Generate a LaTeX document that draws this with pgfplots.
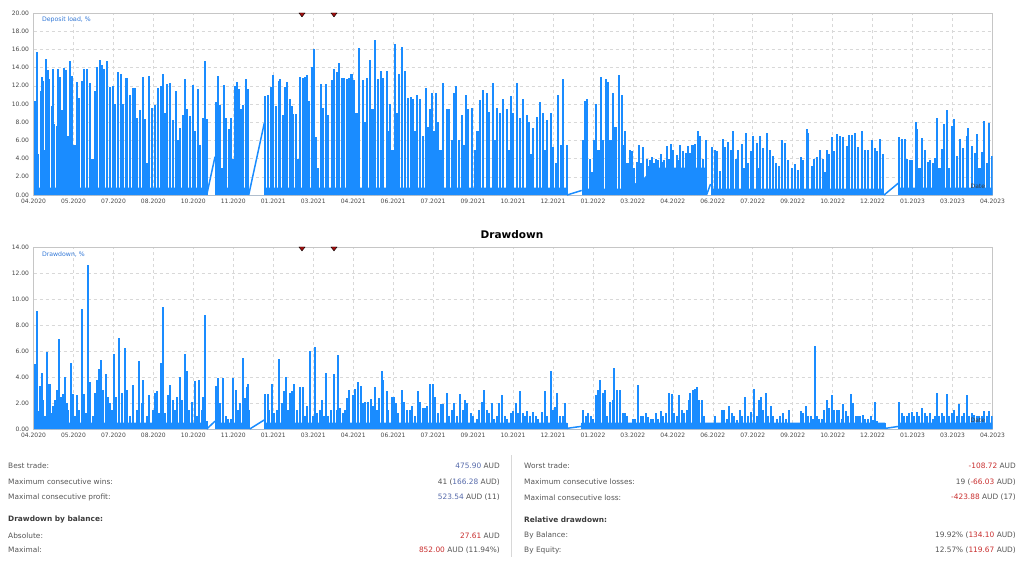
\documentclass[border=0pt]{standalone}
\usepackage{pgfplots}
\pgfplotsset{compat=1.18}
\usepackage{fontspec}
\setmainfont{DejaVu Sans}
\definecolor{dlblue}{RGB}{26,140,255}
\definecolor{lblblue}{RGB}{50,120,215}
\definecolor{tickgray}{RGB}{70,70,70}
\definecolor{gridgray}{RGB}{216,216,216}
\definecolor{framegray}{RGB}{198,198,198}
\definecolor{valblue}{RGB}{85,105,170}
\definecolor{valred}{RGB}{200,45,45}
\definecolor{txtgray}{RGB}{85,85,85}
\definecolor{headgray}{RGB}{60,60,60}
\definecolor{mkred}{RGB}{165,15,15}
\pgfplotsset{
 mt/.style={
  scale only axis, width=959pt, height=182pt,
  xmin=33.5, xmax=992.5, ymin=0,
  xtick={33.5,73.46,113.42,153.37,193.33,233.29,273.25,313.21,353.17,393.12,433.08,473.04,513.0,552.96,592.92,632.87,672.83,712.79,752.75,792.71,832.67,872.62,912.58,952.54,992.5},
  xticklabels={04.2020,05.2020,07.2020,08.2020,10.2020,11.2020,01.2021,03.2021,04.2021,06.2021,07.2021,09.2021,10.2021,12.2021,01.2022,03.2022,04.2022,06.2022,07.2022,09.2022,10.2022,12.2022,01.2023,03.2023,04.2023},
  grid=major,
  major grid style={draw=gridgray, dash pattern=on 3pt off 3pt, line width=0.6pt},
  axis line style={draw=framegray, line width=0.8pt},
  tick style={draw=none},
  tick label style={font=\fontsize{6}{7}\selectfont, text=tickgray},
  xticklabel style={yshift=-1pt},
  yticklabel style={/pgf/number format/.cd, fixed, fixed zerofill, precision=2, assume math mode=true, /tikz/.cd, xshift=-1pt},
 },
 spk/.style={ycomb, mark=none, draw=dlblue, line width=2.1pt},
 gapl/.style={mark=none, draw=dlblue, line width=1.5pt},
 basef/.style={mark=none, fill=dlblue, draw=none},
 mk/.style={only marks, mark=triangle*, mark size=3.5pt, mark options={rotate=180, yscale=0.75, fill=mkred, draw=none}},
}
\begin{document}
\begin{tikzpicture}
\path[use as bounding box] (0pt,0pt) rectangle (1024pt,-566pt);
% ---------------- Deposit load ----------------
\begin{axis}[mt, at={(33.5pt,-195pt)}, anchor=south west, ymax=20, ytick={0,2,...,20}]
\addplot[basef] coordinates {(34,0)(34,0.8)(206.7,0.8)(206.7,0)(216,0)(216,0.8)(248.3,0.8)(248.3,0)(265,0)(265,0.8)(566.7,0.8)(566.7,0)(582.7,0)(582.7,0.7)(622,0.7)(640,1.5)(655,3.0)(705,3.0)(706.5,0)(711,0)(711,0.7)(883.3,0.7)(883.3,0)(899,0)(899,0.8)(992,0.8)(992,0)} \closedcycle;
\addplot[spk] coordinates {
(35.0,10.3)(36.7,15.7)(38.3,4.5)(40.7,11.4)(41.7,13.0)(42.7,12.5)(44.3,5.0)(46.0,15.0)(47.7,13.7)(49.3,12.8)(51.7,9.8)(52.7,13.8)(54.3,7.8)(56.7,7.6)(58.3,13.8)(60.0,13.0)(61.7,9.3)(64.0,14.0)(66.0,13.7)(68.3,6.5)(70.0,14.7)(71.7,13.1)(74.5,5.5)(77.3,12.4)(79.3,10.7)(81.7,12.5)(84.0,13.9)(87.3,13.9)(90.0,12.3)(92.5,4.0)(95.0,11.4)(96.7,14.1)(100.0,14.8)(101.7,14.3)(104.0,13.8)(106.7,14.7)(110.0,11.9)(112.7,12.0)(115.0,10.0)(118.3,13.5)(120.7,13.3)(123.3,10.0)(126.0,12.9)(127.3,12.9)(130.0,11.0)(132.7,11.8)(135.0,11.8)(137.3,8.5)(140.0,9.3)(142.7,13.0)(145.0,8.4)(147.3,3.5)(149.3,13.1)(151.7,9.6)(155.0,9.9)(158.3,11.8)(160.7,12.0)(162.7,13.3)(165.0,9.0)(167.3,12.2)(170.0,12.3)(172.7,8.2)(176.0,11.4)(178.3,6.0)(180.0,7.4)(182.7,8.8)(185.0,12.7)(187.3,9.4)(190.0,8.7)(192.7,12.1)(195.0,7.0)(197.7,11.7)(200.0,5.5)(202.7,8.5)(205.0,14.7)(206.7,8.3)
(216.0,10.2)(217.7,13.1)(220.0,9.9)(221.7,3.0)(224.0,12.1)(226.0,8.5)(229.3,7.3)(231.0,8.5)(233.3,4.0)(235.0,12.0)(236.7,12.4)(239.0,11.7)(240.7,9.4)(243.3,9.9)(246.0,12.7)(248.3,11.7)
(265.0,10.9)(267.7,11.0)(270.7,11.9)(273.3,13.2)(276.0,9.8)(278.7,12.5)(280.0,12.8)(282.7,8.8)(285.0,11.9)(287.3,12.4)(290.0,10.6)(291.7,9.8)(293.3,8.9)(296.0,8.9)(298.0,4.0)(300.0,13.0)(302.7,12.9)(305.0,13.0)(307.3,13.2)(309.3,10.3)(311.7,14.1)(314.0,16.0)(316.0,6.4)(318.3,3.0)(320.7,12.2)(323.3,9.6)(326.0,12.2)(328.3,8.8)(331.7,12.6)(334.3,13.8)(337.3,13.5)(339.3,14.5)(341.7,12.9)(344.0,12.9)(346.7,12.8)(349.0,12.9)(351.5,13.3)(354.0,12.6)(356.5,9.0)(359.0,16.2)(362.7,12.6)(364.7,8.0)(366.7,12.9)(370.0,14.8)(372.5,9.5)(375.0,17.0)(378.3,12.7)(380.7,13.6)(382.7,12.9)(386.7,13.6)(388.3,7.0)(390.0,10.0)(392.5,5.0)(395.0,16.6)(397.0,9.0)(399.3,13.3)(401.7,16.3)(405.0,13.6)(408.3,10.7)(410.7,10.8)(413.3,10.5)(415.3,7.0)(417.3,11.0)(420.0,10.5)(423.0,6.5)(426.0,11.8)(428.0,7.5)(430.0,9.4)(431.7,11.2)(434.0,7.0)(436.0,11.2)(438.3,8.0)(440.5,5.0)(442.7,12.3)(446.7,9.5)(449.3,9.5)(451.7,6.0)(454.0,11.2)(456.0,12.0)(459.0,6.0)(461.7,8.8)(464.0,5.5)(466.0,11.0)(468.3,9.5)(472.3,9.6)(475.0,5.0)(477.5,7.0)(480.0,10.4)(483.3,11.5)(486.7,11.2)(489.3,9.1)(492.7,12.3)(494.7,6.0)(496.7,9.6)(500.0,9.0)(503.3,10.6)(506.7,9.4)(508.7,5.0)(510.7,10.9)(513.3,9.0)(516.7,12.3)(520.0,8.5)(523.3,10.6)(526.7,8.8)(529.3,8.0)(531.3,4.5)(533.3,7.4)(536.7,8.6)(540.0,10.2)(543.3,9.0)(545.3,5.0)(547.3,8.2)(550.7,9.0)(553.3,5.3)(556.0,3.5)(558.3,11.0)(561.0,5.5)(563.3,12.7)(566.7,5.5)
(582.7,6.0)(585.0,10.3)(587.3,10.5)(590.0,4.0)(592.5,2.5)(594.0,6.0)(596.0,10.0)(598.5,5.0)(600.7,13.0)(603.0,6.0)(605.7,12.7)(608.3,12.4)(610.5,6.0)(612.7,11.2)(615.5,7.5)(618.7,13.2)(621.7,11.0)(623.5,5.5)(625.0,7.0)(627.5,3.5)(630.0,5.0)(631.7,4.8)(634.0,3.0)(636.7,3.6)(639.3,5.5)(641.5,3.5)(643.3,5.3)(646.7,4.0)(648.5,3.2)(650.0,3.9)(652.0,4.2)(654.0,3.5)(656.0,4.0)(658.3,3.8)(660.7,4.5)(662.5,3.6)(664.0,3.8)(666.7,5.4)(668.7,4.0)(670.7,5.6)(673.3,5.0)(676.7,4.4)(678.5,3.8)(680.0,5.5)(683.3,4.8)(686.0,4.6)(688.3,5.4)(690.5,4.6)(692.5,5.5)(695.0,5.6)(698.3,7.0)(700.0,6.5)(703.3,4.0)(706.0,6.0)
(711.7,5.3)(715.0,4.9)(717.3,4.8)(720.0,2.6)(722.7,6.1)(725.0,5.3)(728.3,5.8)(730.7,5.0)(733.3,7.0)(736.0,4.0)(738.3,5.0)(741.7,5.6)(744.0,3.0)(746.0,6.8)(748.3,3.5)(750.7,4.8)(753.3,6.5)(756.7,5.7)(758.5,3.0)(760.0,6.5)(763.3,5.2)(766.7,6.8)(770.0,5.0)(772.7,4.3)(776.0,3.5)(778.7,3.2)(781.7,6.0)(785.0,5.7)(788.3,3.9)(791.7,3.0)(795.0,3.4)(797.7,2.8)(800.7,4.2)(803.3,3.9)(806.7,7.2)(808.3,6.8)(811.7,3.2)(814.0,4.0)(816.7,4.2)(820.0,5.0)(822.7,4.0)(824.7,2.5)(826.7,5.0)(829.3,4.5)(831.7,6.4)(834.0,4.8)(836.7,6.7)(840.0,6.5)(843.3,6.4)(846.7,5.4)(849.3,6.6)(851.7,6.6)(855.0,6.8)(858.3,5.3)(861.7,7.0)(865.0,4.9)(868.3,5.0)(871.7,6.0)(875.0,5.2)(877.3,4.8)(880.0,6.1)(883.3,4.5)
(899.0,6.4)(901.7,6.2)(905.0,6.2)(906.7,4.0)(910.0,3.8)(912.3,3.9)(916.0,8.0)(917.3,7.3)(919.5,3.0)(921.7,6.3)(925.0,5.0)(928.3,3.6)(930.0,3.8)(932.7,3.5)(935.0,4.1)(937.3,8.5)(939.5,3.0)(941.7,5.1)(944.0,7.8)(947.3,9.3)(949.3,3.0)(951.7,7.6)(954.0,8.4)(957.3,4.3)(960.0,6.1)(963.3,5.2)(966.7,6.5)(968.3,7.4)(971.7,5.4)(975.0,4.6)(977.3,6.7)(979.5,3.0)(981.7,4.7)(984.0,8.1)(986.7,3.5)(989.3,7.9)(991.7,4.3)};
\addplot[gapl] coordinates {(206.7,0)(215.0,4.2)};
\addplot[gapl] coordinates {(248.7,0)(264.3,7.9)};
\addplot[gapl] coordinates {(567.0,0)(581.7,0.5)};
\addplot[gapl] coordinates {(706.5,0)(710.5,1.2)};
\addplot[gapl] coordinates {(884.0,0)(898.3,1.3)};
\addplot[mk] coordinates {(302,19.86)(334,19.86)};
\node[anchor=west, font=\fontsize{6.2}{7}\selectfont, text=lblblue] at (rel axis cs:0,1) [xshift=5pt, yshift=-7pt] {Deposit load, \%};
\node[anchor=south east, font=\fontsize{6}{7}\selectfont, text=headgray] at (rel axis cs:1,0) [xshift=-4pt, yshift=2.5pt] {Date};
\end{axis}
% ---------------- Drawdown ----------------
\node[font=\bfseries\fontsize{10.5}{12}\selectfont, text=black] at (512pt,-235pt) {Drawdown};
\begin{axis}[mt, at={(33.5pt,-429pt)}, anchor=south west, ymax=14, ytick={0,2,...,14}]
\addplot[basef] coordinates {(34,0)(34,0.5)(206.7,0.5)(206.7,0)(216,0)(216,0.5)(249.3,0.5)(249.3,0)(265,0)(265,0.5)(566.7,0.5)(566.7,0)(581.7,0)(581.7,0.5)(885,0.5)(885,0)(899,0)(899,0.5)(992,0.5)(992,0)} \closedcycle;
\addplot[spk, line width=1.9pt] coordinates {
(35.0,5.0)(36.7,9.1)(38.3,1.4)(40.0,3.3)(41.7,4.3)(43.3,2.2)(45.0,1.0)(46.7,5.9)(48.3,3.5)(50.0,3.5)(51.7,1.2)(53.3,1.8)(55.0,2.2)(57.3,3.0)(59.3,6.9)(61.0,2.5)(63.3,2.7)(65.0,4.0)(66.7,2.0)(68.3,1.5)(70.7,5.1)(72.7,2.7)(75.0,1.0)(76.7,2.6)(79.3,1.5)(82.3,9.2)(84.0,2.7)(86.0,1.2)(88.3,12.6)(90.0,3.6)(92.7,1.0)(95.0,2.8)(96.7,3.8)(99.0,4.6)(101.0,5.3)(102.7,3.0)(106.0,4.2)(108.3,2.5)(110.0,2.0)(112.0,1.5)(114.0,5.8)(116.0,2.5)(119.3,7.0)(121.7,2.8)(125.0,6.2)(127.3,3.0)(130.0,1.0)(133.3,3.4)(136.7,1.5)(139.3,5.2)(141.7,2.0)(143.3,3.8)(146.7,1.0)(149.3,2.6)(152.7,1.5)(155.0,2.8)(156.7,2.9)(159.3,1.2)(161.0,5.1)(162.7,9.4)(165.0,1.2)(168.3,2.6)(170.0,3.4)(172.7,2.2)(175.0,1.5)(176.7,2.5)(180.0,4.0)(181.7,2.2)(185.0,5.8)(186.7,4.5)(189.3,1.5)(191.7,2.1)(195.0,3.7)(196.7,1.0)(199.3,3.8)(201.7,1.5)(203.3,2.5)(205.0,8.8)(206.7,0.6)
(216.0,3.3)(218.3,3.9)(220.0,2.0)(223.3,3.9)(226.0,1.0)(228.3,0.8)(230.7,0.8)(233.3,3.9)(236.0,3.0)(238.3,1.5)(240.0,2.0)(242.7,5.5)(245.0,2.4)(246.7,3.2)(248.3,3.5)(249.3,1.5)
(265.0,2.7)(267.7,2.7)(269.3,1.5)(271.7,3.5)(274.0,1.2)(276.7,1.5)(279.3,5.4)(281.7,2.0)(284.0,2.9)(286.0,4.0)(288.3,1.5)(290.0,2.8)(291.7,2.9)(294.0,3.5)(296.7,1.5)(300.0,3.2)(302.7,3.2)(305.0,1.0)(306.7,1.8)(310.0,6.0)(312.7,1.0)(315.0,6.3)(317.3,1.2)(320.0,1.5)(321.7,2.2)(324.0,1.0)(326.0,4.3)(328.3,1.0)(331.0,1.5)(334.3,4.2)(336.7,1.5)(338.3,5.7)(340.0,1.6)(342.7,1.2)(345.0,1.5)(346.7,2.4)(349.0,3.0)(352.7,2.6)(355.0,3.1)(358.3,3.6)(360.7,3.3)(362.7,2.0)(365.0,2.1)(368.3,2.1)(370.7,2.3)(373.3,1.8)(375.0,3.2)(377.3,1.5)(379.3,2.4)(381.7,4.5)(383.3,3.8)(386.7,2.9)(388.3,1.5)(391.7,2.5)(394.0,2.5)(396.0,2.0)(398.3,1.2)(401.7,3.0)(404.0,2.1)(406.7,1.5)(410.0,1.5)(411.7,1.8)(415.0,1.0)(417.7,2.9)(420.0,2.1)(422.7,1.6)(425.0,1.6)(427.3,1.8)(430.0,3.5)(432.7,3.5)(435.0,2.5)(438.3,1.2)(441.0,1.9)(443.3,1.9)(446.7,2.8)(449.3,1.0)(451.7,1.5)(454.0,2.0)(456.7,1.0)(460.0,2.7)(462.7,1.5)(465.0,2.2)(467.3,2.0)(470.7,1.2)(473.3,1.0)(476.7,0.8)(479.3,1.5)(481.7,2.1)(484.0,3.0)(486.7,1.5)(489.3,1.2)(491.7,2.0)(494.3,0.8)(496.7,1.0)(499.3,2.0)(502.0,2.6)(505.0,1.0)(507.3,0.8)(510.7,1.2)(513.3,1.4)(516.0,2.0)(518.3,1.2)(520.0,2.9)(522.7,1.2)(525.0,1.0)(527.3,1.4)(530.0,1.0)(533.3,1.3)(536.0,1.0)(538.3,0.8)(541.7,1.3)(545.0,2.9)(547.3,1.0)(550.7,4.5)(553.3,1.5)(555.0,1.7)(557.3,2.8)(560.0,1.0)(562.7,1.0)(565.0,2.0)(566.7,0.5)
(581.7,0.5)(583.3,1.5)(586.0,1.0)(588.3,1.2)(590.7,1.0)(593.3,0.8)(596.0,2.6)(598.3,3.0)(600.0,3.8)(602.7,2.8)(605.0,3.0)(606.7,1.0)(610.0,2.1)(612.7,2.2)(614.0,4.7)(616.7,3.0)(620.0,3.0)(622.7,1.2)(625.0,1.2)(627.3,1.0)(630.0,0.5)(632.7,0.8)(635.0,0.8)(638.3,3.4)(641.0,1.0)(643.3,1.0)(646.0,1.2)(648.3,0.9)(650.7,0.8)(653.3,0.8)(656.0,1.2)(658.3,0.8)(660.7,1.4)(663.3,1.0)(666.0,1.2)(669.3,2.8)(671.7,2.7)(674.0,1.2)(676.7,1.0)(679.3,2.6)(681.7,1.5)(684.0,1.2)(686.7,1.5)(689.0,2.2)(690.0,2.8)(692.7,3.0)(695.0,3.1)(696.7,3.2)(699.3,2.2)(701.7,2.2)(704.0,1.0)(706.0,0.5)(708.3,0.2)(711.7,0.5)(715.0,1.0)(717.3,0.5)(721.7,1.5)(724.0,1.5)(726.7,0.8)(729.3,1.8)(731.7,1.2)(734.0,1.0)(736.7,0.7)(740.0,1.5)(742.3,1.0)(745.0,2.5)(748.3,1.0)(750.7,1.3)(754.0,3.1)(756.7,1.0)(759.3,2.2)(761.3,2.5)(763.3,1.5)(766.0,2.8)(768.3,1.0)(770.7,1.8)(773.3,1.0)(776.7,0.8)(780.0,1.0)(783.3,1.2)(786.0,0.8)(788.7,1.5)(791.7,0.5)(795.0,0.5)(798.3,0.5)(800.7,1.4)(803.3,1.2)(806.0,1.8)(808.3,1.0)(811.0,1.0)(812.7,0.8)(815.0,6.4)(816.7,1.0)(819.3,0.8)(821.7,0.8)(824.0,1.5)(826.7,2.2)(829.3,1.6)(831.7,2.6)(834.0,1.5)(836.7,1.5)(839.3,1.5)(841.7,0.8)(843.3,1.9)(846.0,1.4)(848.3,1.0)(850.7,2.7)(853.3,2.0)(856.0,1.0)(858.3,1.0)(860.0,1.0)(862.7,1.1)(865.0,0.8)(868.3,0.8)(870.7,1.0)(873.3,0.7)(875.0,2.1)(877.3,0.6)(880.0,0.5)(882.7,0.5)(885.0,0.5)
(899.3,2.1)(901.7,1.2)(904.0,1.0)(906.7,1.0)(909.3,1.2)(911.7,1.3)(914.0,1.0)(916.7,1.3)(919.3,1.0)(922.0,1.6)(925.0,1.2)(927.3,1.0)(930.0,1.2)(932.7,0.8)(935.0,1.0)(936.7,2.8)(939.3,1.0)(941.7,1.2)(944.0,1.0)(946.7,2.7)(949.3,1.0)(951.7,1.2)(954.0,1.5)(956.7,1.0)(959.3,1.9)(961.7,1.0)(964.0,1.2)(966.7,2.6)(969.3,1.0)(971.7,1.2)(974.0,1.1)(976.7,1.0)(979.3,1.0)(981.7,1.0)(984.0,1.4)(986.7,1.0)(989.3,1.4)(991.7,1.0)};
\addplot[gapl] coordinates {(206.7,0)(215.0,0.6)};
\addplot[gapl] coordinates {(249.7,0)(264.3,0.7)};
\addplot[gapl] coordinates {(567.0,0.05)(581.0,0.2)};
\addplot[gapl] coordinates {(885.5,0.05)(898.5,0.2)};
\addplot[mk] coordinates {(302,13.9)(334,13.9)};
\node[anchor=west, font=\fontsize{6.2}{7}\selectfont, text=lblblue] at (rel axis cs:0,1) [xshift=5pt, yshift=-7pt] {Drawdown, \%};
\node[anchor=south east, font=\fontsize{6}{7}\selectfont, text=headgray] at (rel axis cs:1,0) [xshift=-4pt, yshift=2.5pt] {Date};
\end{axis}
% ---------------- Statistics ----------------
\draw[draw=gridgray, line width=0.8pt] (511pt,-455pt) -- (511pt,-557pt);
\begin{scope}[every node/.style={font=\fontsize{7.4}{9}\selectfont, text=txtgray, inner sep=0pt}]
\node[anchor=west] at (8pt,-466pt) {Best trade:};
\node[anchor=east] at (500pt,-466pt) {\textcolor{valblue}{475.90} AUD};
\node[anchor=west] at (8pt,-481.7pt) {Maximum consecutive wins:};
\node[anchor=east] at (500pt,-481.7pt) {41 (\textcolor{valblue}{166.28} AUD)};
\node[anchor=west] at (8pt,-497.3pt) {Maximal consecutive profit:};
\node[anchor=east] at (500pt,-497.3pt) {\textcolor{valblue}{523.54} AUD (11)};
\node[anchor=west, text=headgray] at (8pt,-519.5pt) {\bfseries Drawdown by balance:};
\node[anchor=west] at (8pt,-535.5pt) {Absolute:};
\node[anchor=east] at (500pt,-535.5pt) {\textcolor{valred}{27.61} AUD};
\node[anchor=west] at (8pt,-550pt) {Maximal:};
\node[anchor=east] at (500pt,-550pt) {\textcolor{valred}{852.00} AUD (11.94\%)};
\node[anchor=west] at (524pt,-466pt) {Worst trade:};
\node[anchor=east] at (1016pt,-466pt) {\textcolor{valred}{-108.72} AUD};
\node[anchor=west] at (524pt,-481.7pt) {Maximum consecutive losses:};
\node[anchor=east] at (1016pt,-481.7pt) {19 (\textcolor{valred}{-66.03} AUD)};
\node[anchor=west] at (524pt,-497.3pt) {Maximal consecutive loss:};
\node[anchor=east] at (1016pt,-497.3pt) {\textcolor{valred}{-423.88} AUD (17)};
\node[anchor=west, text=headgray] at (524pt,-519.5pt) {\bfseries Relative drawdown:};
\node[anchor=west] at (524pt,-535.5pt) {By Balance:};
\node[anchor=east] at (1016pt,-535.5pt) {19.92\% (\textcolor{valred}{134.10} AUD)};
\node[anchor=west] at (524pt,-550pt) {By Equity:};
\node[anchor=east] at (1016pt,-550pt) {12.57\% (\textcolor{valred}{119.67} AUD)};
\end{scope}
\end{tikzpicture}
\end{document}
